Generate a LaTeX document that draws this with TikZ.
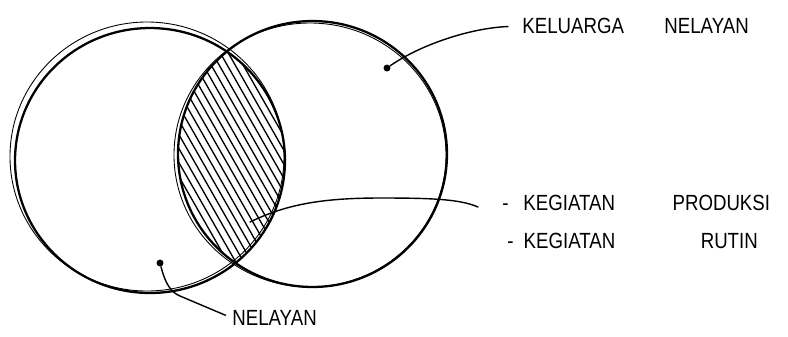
\documentclass[tikz,border=0pt]{standalone}
\usepackage{fontspec}
\newfontfamily\handfont{Liberation Sans}[FakeStretch=0.85]
\usetikzlibrary{shapes.geometric}
\tikzset{
  venn/.style={draw,ellipse,inner sep=0pt,line width=1.3pt},
  sketch/.style={line width=0.5pt},
  pickoff/.style={circle,fill,inner sep=1.4pt},
  lbl/.style={font=\handfont\fontsize{12.5}{15}\selectfont,inner sep=0pt,anchor=west},
  ptr/.style={line width=0.8pt},
  hatch/.style={line width=0.75pt}
}
\begin{document}
\begin{tikzpicture}[x=0.02cm,y=-0.02cm,line cap=round]
  \useasboundingbox (0,0) rectangle (788,336);
  % hatched overlap
  \begin{scope}
    \clip (150,160.5) ellipse [x radius=135, y radius=132.5];
    \clip (312.5,154) ellipse [x radius=134.5, y radius=133];
    \foreach \x in {30,38,...,300}
      \draw[hatch] (\x,0) -- ++(200,350);
  \end{scope}
  % the two sets
  \node[venn,minimum width=5.4cm,minimum height=5.3cm] (nelayan) at (150,160.5) {};
  \node[venn,minimum width=5.38cm,minimum height=5.32cm] (keluarga) at (312.5,154) {};
  \draw[sketch] (147,156.5) ellipse [x radius=137, y radius=134.5];
  \draw[sketch] (310,155) ellipse [x radius=136, y radius=132];
  % labels
  \node[pickoff] (kdot) at (387,68) {};
  \node[lbl] (keltxt) at (522,26) {KELUARGA\hspace{23pt}NELAYAN};
  \draw[ptr,shorten >=8pt] (kdot) .. controls (420,45) and (470,28) .. (keltxt.west);
  \coordinate (lens) at (250,222);
  \coordinate (pend) at (478,207);
  \node[lbl] (prodtxt) at (502,203) {-\hspace{8.5pt}KEGIATAN\hspace{32.7pt}PRODUKSI};
  \node[lbl] (rutintxt) at (507,241) {-\hspace{5.8pt}KEGIATAN\hspace{48.6pt}RUTIN};
  \draw[ptr] (lens) .. controls (285,205) and (320,198) .. (380,198)
    .. controls (430,198) and (460,199) .. (pend);
  \node[pickoff] (ndot) at (160,263) {};
  \node[lbl] (neltxt) at (232,318) {NELAYAN};
  \draw[ptr,shorten >=4pt] (ndot) .. controls (165,282) and (170,292) .. (180,296) -- (neltxt.west);
\end{tikzpicture}
\end{document}
